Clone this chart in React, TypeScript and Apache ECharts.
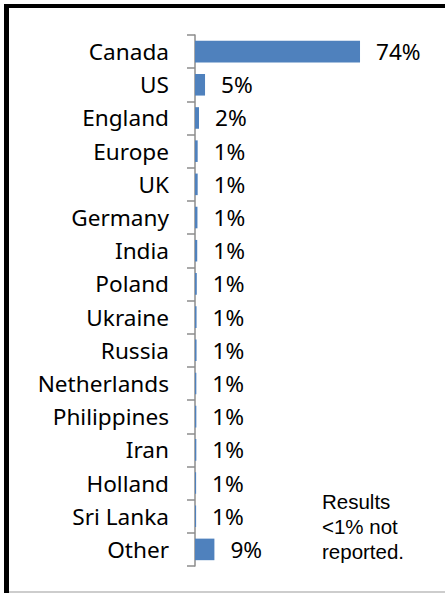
import React, { useEffect, useRef } from "react";
import * as echarts from "echarts";

const categories = [
  "Canada", "US", "England", "Europe", "UK", "Germany", "India", "Poland",
  "Ukraine", "Russia", "Netherlands", "Philippines", "Iran", "Holland", "Sri Lanka", "Other",
];
const values = [74, 4.5, 1.8, 1.2, 1.2, 1.1, 1.0, 0.8, 0.7, 0.7, 0.6, 0.6, 0.6, 0.5, 0.5, 8.7];
const valueLabels = ["74%", "5%", "2%", "1%", "1%", "1%", "1%", "1%", "1%", "1%", "1%", "1%", "1%", "1%", "1%", "9%"];
const note = "Results\n<1% not\nreported.";

export default function App() {
  const ref = useRef<HTMLDivElement>(null);
  useEffect(() => {
    document.body.style.margin = "0";
    const chart = echarts.init(ref.current!, null, { renderer: "svg" });
    chart.setOption({
      animation: false,
      backgroundColor: "#ffffff",
      grid: { left: 195, top: 35, width: 178.4, height: 531 },
      xAxis: {
        type: "value",
        min: 0,
        max: 80,
        show: false,
      },
      yAxis: {
        type: "category",
        data: categories,
        inverse: true,
        axisLine: { show: true, lineStyle: { color: "#8c8c8c", width: 1.5 } },
        axisTick: { show: true, length: 8, lineStyle: { color: "#8c8c8c", width: 1.5 } },
        axisLabel: {
          margin: 26,
          fontFamily: "Noto Sans",
          fontSize: 22.6,
          color: "#000000",
        },
      },
      series: [
        {
          type: "bar",
          data: values,
          barCategoryGap: "35%",
          itemStyle: { color: "#4F81BD" },
          label: {
            show: true,
            position: "right",
            distance: 16,
            fontFamily: "Noto Sans",
            fontSize: 22.6,
            color: "#000000",
            formatter: (p: any) => valueLabels[p.dataIndex],
          },
        },
      ],
      graphic: [
        { type: "line", shape: { x1: 4, y1: 6, x2: 445, y2: 6 }, style: { stroke: "#000", lineWidth: 4 } },
        { type: "line", shape: { x1: 6.5, y1: 4, x2: 6.5, y2: 593 }, style: { stroke: "#000", lineWidth: 5 } },
        { type: "line", shape: { x1: 9, y1: 592, x2: 445, y2: 592 }, style: { stroke: "#bdbdbd", lineWidth: 1.5 } },
        {
          type: "text",
          left: 322,
          top: 489,
          style: {
            text: note,
            fontFamily: "Liberation Sans",
            fontSize: 20.5,
            lineHeight: 25,
            fill: "#000000",
          },
        },
      ],
    });
    return () => chart.dispose();
  }, []);
  return <div ref={ref} style={{ width: 445, height: 593 }} />;
}
